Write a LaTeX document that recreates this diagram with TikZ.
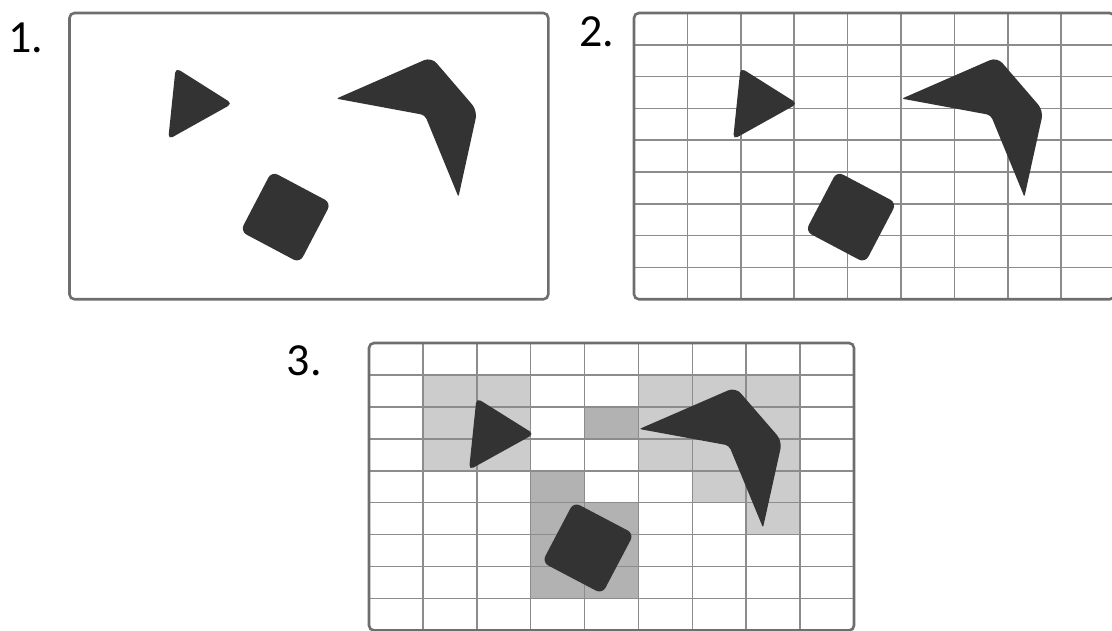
\documentclass[tikz,border=0pt]{standalone}
\usepackage{fontspec}
\setmainfont{Carlito}
\definecolor{shapec}{HTML}{333333}
\definecolor{lightc}{HTML}{CCCCCC}
\definecolor{darkc}{HTML}{B2B2B2}
\definecolor{gridc}{HTML}{8C8C8C}
\definecolor{framec}{HTML}{6E6E6E}
\tikzset{
  framebox/.style={draw=framec, line width=2.6pt, rounded corners=5pt},
  gridline/.style={draw=gridc, line width=1.5pt},
  shapefill/.style={fill=shapec},
  lab/.style={font=\fontsize{46}{46}\selectfont, inner sep=0pt, anchor=base west},
}
\newcommand{\drawshapes}{%
  \fill[shapefill, rounded corners=5pt] (107.5,55) -- (165,91) -- (100,127) -- cycle;
  \fill[shapefill, rounded corners=7pt] (204.75,159.07) -- (264.93,190.75) -- (233.25,250.93) -- (173.07,219.25) -- cycle;
  \fill[shapefill] (270.3,86) [rounded corners=8pt] -- (366.5,44.2) -- (413.2,98.1) [rounded corners=1.5pt] -- (394,184.7) [rounded corners=4pt] -- (360,102.5) [rounded corners=1.5pt] -- cycle;
}
\newcommand{\drawgrid}{%
  \foreach \i in {1,...,8} {
    \draw[gridline] (\i,0) -- (\i,9);
    \draw[gridline] (0,\i) -- (9,\i);
  }
}
\begin{document}
\begin{tikzpicture}[x=1pt,y=-1pt]
\useasboundingbox (0,0) rectangle (1112,631);
\clip (0,0) rectangle (1112,631);
\fill[white] (0,0) rectangle (1112,631);

% labels
\node[lab] (l1) at (8,52.3) {1.};
\node[lab] (l2) at (579,46.7) {2.};
\node[lab] (l3) at (286.5,375) {3.};

% panel 1
\begin{scope}[xshift=69.5pt, yshift=-13pt, xscale=0.9872, yscale=0.9958]
  \drawshapes
\end{scope}
\draw[framebox] (69.5,13) rectangle (548.3,299.3);

% panel 2
\begin{scope}[xshift=634pt, yshift=-13pt, x=53.4pt, y=-31.81pt]
  \drawgrid
\end{scope}
\begin{scope}[xshift=634pt, yshift=-13pt, xscale=0.9909, yscale=0.9958]
  \drawshapes
\end{scope}
\begin{scope}[xshift=634pt, yshift=-13pt, x=53.4pt, y=-31.81pt]
  \draw[framebox] (0,0) rectangle (9,9);
\end{scope}

% panel 3
\begin{scope}[xshift=369pt, yshift=-343pt, x=53.89pt, y=-31.94pt]
  \fill[lightc] (1,1) rectangle (3,4);
  \fill[lightc] (5,1) rectangle (8,4);
  \fill[lightc] (6,4) rectangle (8,5);
  \fill[lightc] (7,5) rectangle (8,6);
  \fill[darkc] (4,2) rectangle (5,3);
  \fill[darkc] (3,4) rectangle (4,5);
  \fill[darkc] (3,5) rectangle (5,8);
  \drawgrid
\end{scope}
\begin{scope}[xshift=369pt, yshift=-343pt]
  \drawshapes
\end{scope}
\begin{scope}[xshift=369pt, yshift=-343pt, x=53.89pt, y=-31.94pt]
  \draw[framebox] (0,0) rectangle (9,9);
\end{scope}
\end{tikzpicture}
\end{document}
